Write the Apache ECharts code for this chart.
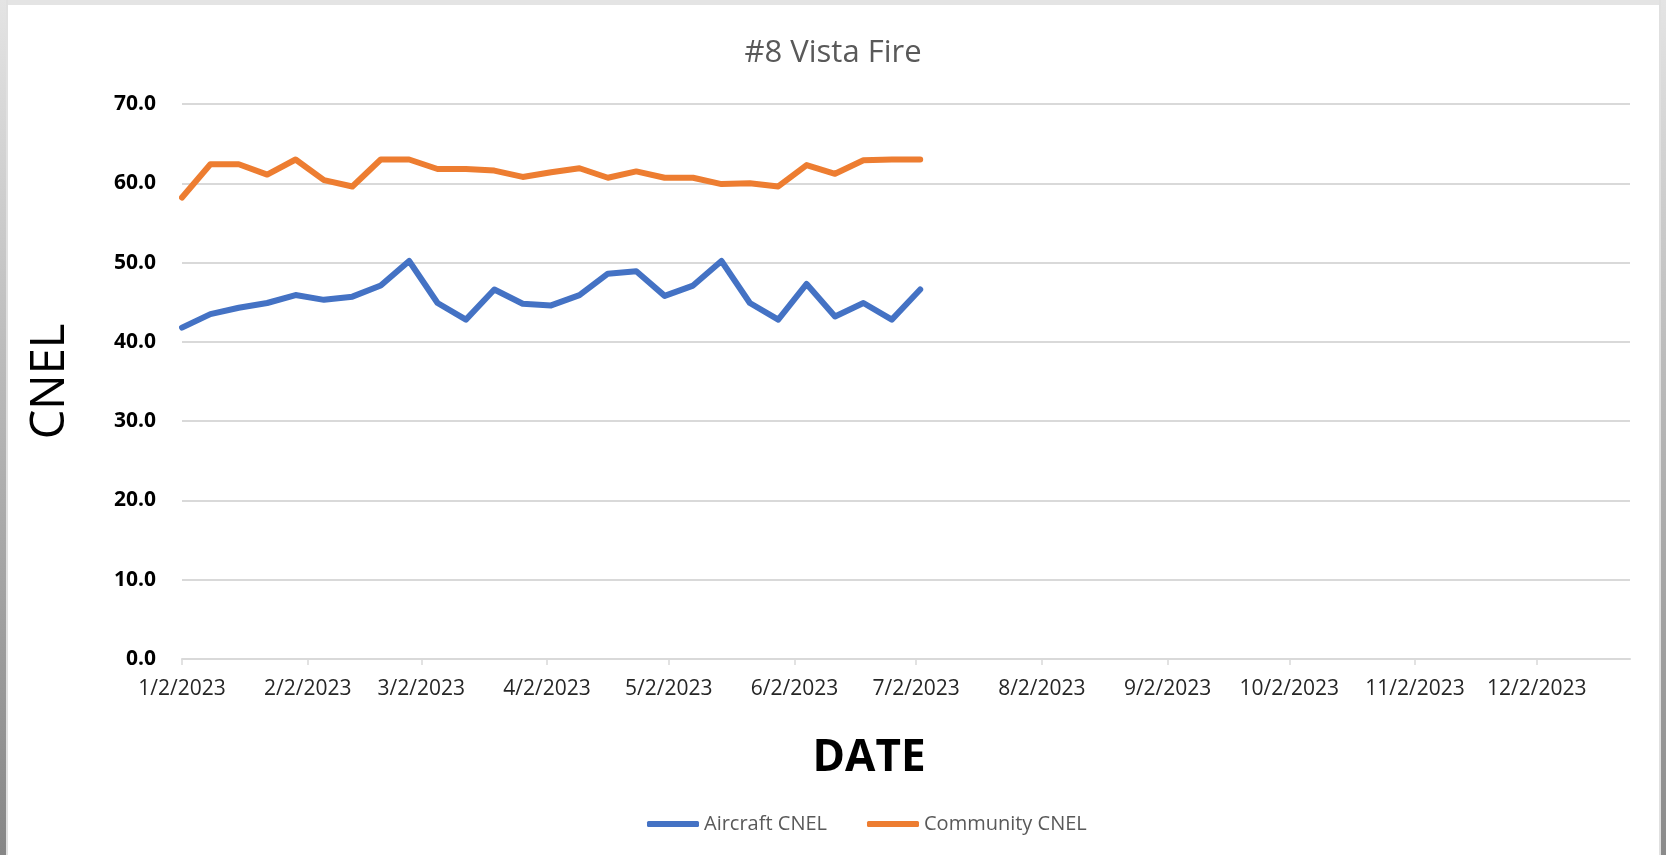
<!DOCTYPE html>
<html>
<head>
<meta charset="utf-8">
<title>#8 Vista Fire</title>
<script src="https://cdn.jsdelivr.net/npm/echarts@6/dist/echarts.min.js"></script>
<style>
	html, body { margin: 0; padding: 0; background: #fff; }
	#chart { position: absolute; left: 0; top: 0; width: 1666px; height: 855px; }
	.edge { position: absolute; pointer-events: none; }
	#edgeTop { left: 0; top: 0; width: 1666px; height: 5px; background: #e4e4e4; }
	#edgeLeft { left: 0; top: 0; width: 6px; height: 855px; background: linear-gradient(#e4e4e4, #bdbdbd 40%, #868686); border-right: 2px solid #e0e0e0; }
	#edgeRight { left: 1659px; top: 0; width: 7px; height: 855px; background: linear-gradient(#e4e4e4, #bdbdbd 40%, #8a8a8a); border-left: 2px solid #e0e0e0; }
</style>
</head>
<body>
<div id="chart"></div>
<div class="edge" id="edgeTop"></div>
<div class="edge" id="edgeLeft"></div>
<div class="edge" id="edgeRight"></div>
<script>
// weekly readings
var dates = ['1/2/2023', '1/9/2023', '1/16/2023', '1/23/2023', '1/30/2023', '2/6/2023', '2/13/2023',
	'2/20/2023', '2/27/2023', '3/6/2023', '3/13/2023', '3/20/2023', '3/27/2023', '4/3/2023',
	'4/10/2023', '4/17/2023', '4/24/2023', '5/1/2023', '5/8/2023', '5/15/2023', '5/22/2023',
	'5/29/2023', '6/5/2023', '6/12/2023', '6/19/2023', '6/26/2023', '7/3/2023'];
var aircraftCnel = [41.8, 43.5, 44.3, 44.9, 45.9, 45.3, 45.7, 47.1, 50.2, 44.9, 42.8, 46.6, 44.8, 44.6,
	45.9, 48.6, 48.9, 45.8, 47.1, 50.2, 44.9, 42.8, 47.3, 43.2, 44.9, 42.8, 46.6];
var communityCnel = [58.2, 62.4, 62.4, 61.1, 63.0, 60.4, 59.6, 63.0, 63.0, 61.8, 61.8, 61.6, 60.8, 61.4,
	61.9, 60.7, 61.5, 60.7, 60.7, 59.9, 60.0, 59.6, 62.3, 61.2, 62.9, 63.0, 63.0];

var tickLabels = ['1/2/2023', '2/2/2023', '3/2/2023', '4/2/2023', '5/2/2023', '6/2/2023',
	'7/2/2023', '8/2/2023', '9/2/2023', '10/2/2023', '11/2/2023', '12/2/2023'];
var axisStart = '1/2/2023';
var axisEnd = '12/25/2023';

function toTime(s) {
	var p = s.split('/');
	return Date.UTC(+p[2], +p[0] - 1, +p[1]);
}
function pairs(vals) {
	return vals.map(function(v, i) { return [toTime(dates[i]), v]; });
}

var tickTimes = tickLabels.map(toTime);
var labelByTime = {};
tickLabels.forEach(function(s) { labelByTime[toTime(s)] = s; });

var font = '"Open Sans", "Noto Sans", sans-serif';

var chart = echarts.init(document.getElementById('chart'));
var option = {
	backgroundColor : '#ffffff',
	animation : false,
	title : {
		text : '#8 Vista Fire',
		left : 'center',
		top : 38,
		padding : 0,
		textStyle : { fontFamily : font, fontSize : 31, fontWeight : 'normal', color : '#595959' }
	},
	legend : {
		left : 642,
		top : 809,
		itemWidth : 52,
		itemHeight : 6,
		itemGap : 40,
		icon : 'roundRect',
		textStyle : { fontFamily : font, fontSize : 20, color : '#595959' },
		data : [ 'Aircraft CNEL', 'Community CNEL' ]
	},
	grid : {
		left : 182,
		right : 36,
		top : 104,
		bottom : 196
	},
	xAxis : {
		type : 'value',
		min : toTime(axisStart),
		max : toTime(axisEnd),
		name : 'DATE',
		nameLocation : 'middle',
		nameGap : 77,
		nameTextStyle : { fontFamily : font, fontSize : 44, fontWeight : 'bold', color : '#000', padding : [0, 74, 0, 0] },
		axisLine : { show : true, lineStyle : { color : '#d9d9d9', width : 2 } },
		axisTick : { show : true, customValues : tickTimes, length : 6, lineStyle : { color : '#d9d9d9', width : 1.5 } },
		axisLabel : {
			customValues : tickTimes,
			margin : 20,
			fontFamily : font,
			fontSize : 21,
			color : '#262626',
			formatter : function(v) { return labelByTime[v] || ''; }
		},
		splitLine : { show : false }
	},
	yAxis : {
		type : 'value',
		min : 0,
		max : 70,
		interval : 10,
		name : 'CNEL',
		nameLocation : 'middle',
		nameGap : 108,
		nameTextStyle : { fontFamily : font, fontSize : 47, color : '#000' },
		axisLine : { show : false },
		axisTick : { show : false },
		axisLabel : {
			margin : 26,
			fontFamily : font,
			fontSize : 21,
			fontWeight : 'bold',
			color : '#000',
			formatter : function(v) { return v.toFixed(1); }
		},
		splitLine : { lineStyle : { color : '#d9d9d9', width : 2 } }
	},
	series : [ {
		name : 'Aircraft CNEL',
		type : 'line',
		symbol : 'none',
		color : '#4472C4',
		lineStyle : { width : 6, cap : 'round', join : 'round' },
		data : pairs(aircraftCnel)
	}, {
		name : 'Community CNEL',
		type : 'line',
		symbol : 'none',
		color : '#ED7D31',
		lineStyle : { width : 6, cap : 'round', join : 'round' },
		data : pairs(communityCnel)
	} ]
};
chart.setOption(option);
window.addEventListener('resize', chart.resize);
</script>
</body>
</html>
